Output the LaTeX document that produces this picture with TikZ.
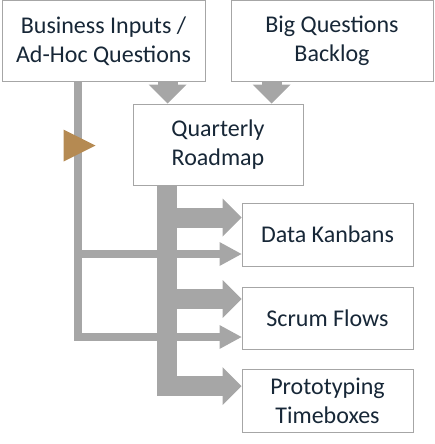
\documentclass[tikz,border=0pt]{standalone}
\usepackage{fontspec}
\setmainfont{Carlito}
\usetikzlibrary{arrows.meta,calc}
\definecolor{flow}{RGB}{166,166,166}
\definecolor{boxline}{RGB}{166,166,166}
\definecolor{txt}{RGB}{23,39,55}
\definecolor{marker}{RGB}{181,138,82}
\begin{document}
\begin{tikzpicture}[x=1pt,y=-1pt,
  box/.style={draw=boxline,line width=1pt,fill=white,align=center,inner sep=0pt,
    font=\fontsize{24}{29}\selectfont,text=txt},
  bigflow/.style={draw=flow,line width=20pt,line join=miter,
    -{Triangle[length=19pt,width=38pt,line width=0pt]}},
  thinflow/.style={draw=flow,line width=8pt,line join=miter,
    -{Triangle[length=22pt,width=24pt,line width=0pt]}}
]
\useasboundingbox (0,0) rectangle (434,444);
% boxes
\node[box,minimum width=203pt,minimum height=80pt] (b1) at (103.5,41) {Business Inputs /\\Ad-Hoc Questions};
\node[box,minimum width=202pt,minimum height=80pt] (b2) at (332,41) {Big Questions\\Backlog};
\node[box,minimum width=170pt,minimum height=81pt] (rm) at (218,144.5) {Quarterly\\Roadmap};
\node[box,minimum width=171pt,minimum height=63pt] (dk) at (327.5,234.5) {Data Kanbans};
\node[box,minimum width=171pt,minimum height=62pt] (sf) at (327.5,318) {Scrum Flows};
\node[box,minimum width=171pt,minimum height=63pt] (pt) at (327.5,400.5) {Prototyping\\Timeboxes};
% helper coordinates
\coordinate (in1) at ($(rm.north west)+(35,0)$);
\coordinate (in2) at ($(rm.north west)+(139,0)$);
\coordinate (trunk) at ($(rm.south west)+(34,0)$);
\coordinate (trunkL) at ($(b1.south west)+(76,0)$);
\coordinate (dkthick) at ($(dk.west)+(0,-17)$);
\coordinate (sfthick) at ($(sf.west)+(0,-19)$);
\coordinate (ptthick) at ($(pt.west)+(0,-14.5)$);
\coordinate (dkthin) at ($(dk.west)+(0,19.5)$);
\coordinate (sfthin) at ($(sf.west)+(0,19)$);
% inputs to roadmap
\draw[bigflow] (in1 |- b1.south) -- (in1);
\draw[bigflow] (in2 |- b2.south) -- (in2);
% ad-hoc bypass line
\draw[thinflow] (trunkL) |- (sfthin);
\draw[thinflow] (trunkL |- dkthin) -- (dkthin);
% roadmap trunk
\draw[bigflow] (trunk) |- (ptthick);
\draw[bigflow] (trunk |- dkthick) -- (dkthick);
\draw[bigflow] (trunk |- sfthick) -- (sfthick);
% marker
\fill[marker] ($(trunkL)+(-14,48)$) -- ++(32,16) -- ++(-32,16) -- cycle;
\end{tikzpicture}
\end{document}
